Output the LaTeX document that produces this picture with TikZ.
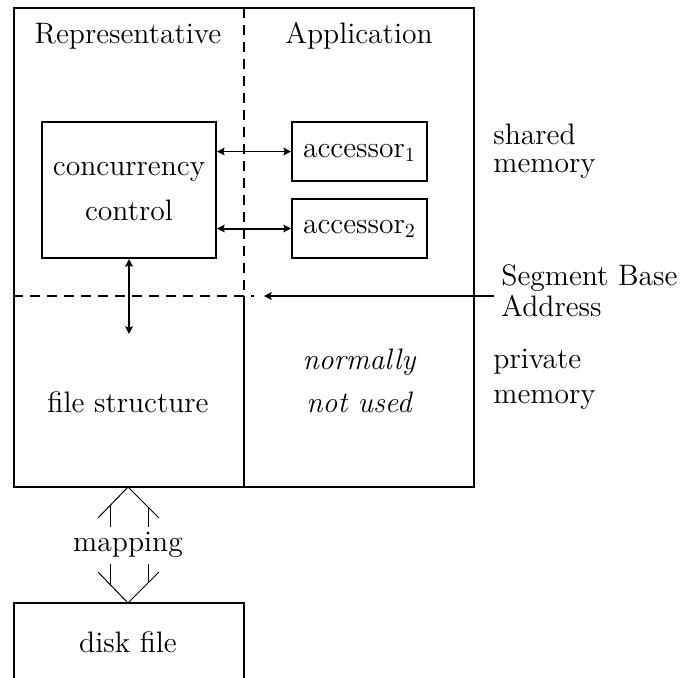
\documentclass[tikz,border=0pt]{standalone}
\usetikzlibrary{arrows.meta}

\tikzset{
  frame/.style={draw, line width=1pt, inner sep=0pt},
  lbl/.style={inner sep=0pt, anchor=base, font=\fontsize{14.8}{17}\selectfont},
  lblw/.style={lbl, anchor=base west},
  link/.style={line width=#1, {Stealth[length=3.8pt, width=3.8pt, inset=0.6pt]}-{Stealth[length=3.8pt, width=3.8pt, inset=0.6pt]}},
  divider/.style={line width=1pt, dash pattern=on 5pt off 3.5pt},
  hollow/.style={line width=0.5pt, line join=miter}
}

\begin{document}
\begin{tikzpicture}[x=0.5pt, y=-0.5pt]
  \useasboundingbox (0,0) rectangle (682,677);

  % address space frame and its four quadrants
  \node[frame, minimum width=230pt, minimum height=239.5pt] (space) at (244,247.5) {};
  \coordinate (divtop) at (244,8);
  \coordinate (divmid) at (244,296);
  \coordinate (divbot) at (244,487);
  \coordinate (hdash) at (254,296);
  \draw[divider] (divtop) -- (divmid);
  \draw[line width=1pt] (divmid) -- (divbot);
  \draw[divider] (space.west |- divmid) -- (hdash);

  % boxes
  \node[frame, minimum width=87pt, minimum height=68pt] (cc) at (129,190) {};
  \node[frame, minimum width=67.5pt, minimum height=29.5pt] (acc1) at (359.5,151.5) {};
  \node[frame, minimum width=67.5pt, minimum height=29.5pt] (acc2) at (359.5,228.5) {};
  \node[frame, minimum width=115pt, minimum height=43.5pt] (disk) at (129,646.5) {};

  % texts
  \node[lbl] (trep) at (128,43) {Representative};
  \node[lbl] (tapp) at (359,43) {Application};
  \node[lbl] (tcc1) at (129,175) {concurrency};
  \node[lbl] (tcc2) at (129,220) {control};
  \node[lbl] (ta1) at (359.5,157) {accessor$_1$};
  \node[lbl] (ta2) at (359.5,233) {accessor$_2$};
  \node[lbl] (tfs) at (128,412) {file structure};
  \node[lbl] (tn1) at (359,369) {\itshape normally};
  \node[lbl] (tn2) at (359,412) {\itshape not used};
  \node[lblw] (tsh1) at (493,144) {shared};
  \node[lblw] (tsh2) at (493,172) {memory};
  \node[lblw] (tsb1) at (501,285) {Segment Base};
  \node[lblw] (tsb2) at (501,316) {Address};
  \node[lblw] (tpr1) at (493,368) {private};
  \node[lblw] (tpr2) at (493,403) {memory};
  \node[lbl] (tmap) at (128,551) {mapping};
  \node[lbl] (tdisk) at (128,652) {disk file};

  % connectors
  \draw[link=0.6pt] (acc1.west -| cc.east) -- (acc1.west);
  \draw[link=1pt] (acc2.west -| cc.east) -- (acc2.west);
  \coordinate (fsend) at (129,334);
  \draw[link=1pt] (cc.south) -- (fsend);
  \coordinate (sbstart) at (494,296);
  \coordinate (sbend) at (264,296);
  \draw[line width=1pt, -{Stealth[length=3.8pt, width=3.8pt, inset=0.6pt]}] (sbstart) -- (sbend);

  % hollow double arrow for the mapping
  \coordinate (mtop) at (128,487);
  \coordinate (mbot) at (128,603);
  \draw[hollow] (98,518) -- (mtop) -- (159,518);
  \draw[hollow] (110,505.6) -- (110,527);
  \draw[hollow] (148,507) -- (148,527);
  \draw[hollow] (98,572) -- (mbot) -- (159,572);
  \draw[hollow] (110,564) -- (110,585);
  \draw[hollow] (148,564) -- (148,583);
\end{tikzpicture}
\end{document}
